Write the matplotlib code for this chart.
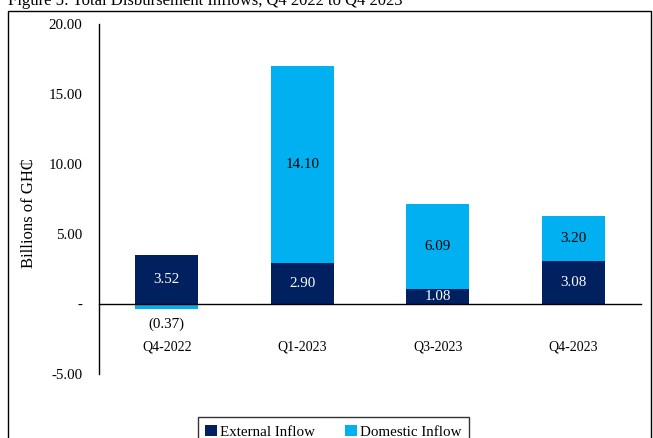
import matplotlib.pyplot as plt
import matplotlib.patches as patches

# Data (billions of GH cedi)
quarters = ["Q4-2022", "Q1-2023", "Q3-2023", "Q4-2023"]
external = [3.52, 2.90, 1.08, 3.08]
domestic = [-0.37, 14.10, 6.09, 3.20]
yticks = [-5, 0, 5, 10, 15, 20]

plt.rcParams["font.family"] = ["Liberation Serif", "DejaVu Serif"]
navy = "#002060"
sky = "#00B0F0"
fs = 10.8

fig = plt.figure(figsize=(6.53, 4.38), dpi=100)
ax = fig.add_axes([0.1516, 0.1461, 0.8300, 0.7991])

x = range(len(quarters))
w = 0.465
ax.bar(x, external, width=w, color=navy, label="External Inflow", zorder=2)
# Excel stacks negative values below zero separately
dom_bottom = [e if d >= 0 else 0 for e, d in zip(external, domestic)]
ax.bar(x, domestic, width=w, bottom=dom_bottom, color=sky, label="Domestic Inflow", zorder=2)

# Data labels
for i, (e, d, b) in enumerate(zip(external, domestic, dom_bottom)):
    ax.text(i, e / 2, f"{e:.2f}", color="white", ha="center", va="center", fontsize=fs)
    if d >= 0:
        ax.text(i, b + d / 2, f"{d:.2f}", color="black", ha="center", va="center", fontsize=fs)
    else:
        ax.text(i, d - 0.6, f"({abs(d):.2f})", color="black", ha="center", va="top", fontsize=fs)

ax.set_xlim(-0.5, 3.5)
ax.set_ylim(-5, 20)
ax.set_yticks(yticks)
ax.set_yticklabels(["-" if v == 0 else f"{v:.2f}" for v in yticks], fontsize=fs)
ax.tick_params(axis="y", length=0, pad=12)
ax.set_xticks(list(x))
ax.set_xticklabels(quarters, fontsize=fs)
ax.tick_params(axis="x", length=0, pad=26)
ax.spines["bottom"].set_position(("data", 0))
ax.spines["bottom"].set_linewidth(1.0)
for s in ["top", "right"]:
    ax.spines[s].set_visible(False)
ax.spines["left"].set_linewidth(1.0)
ax.set_ylabel("Billions of GH\u20b5", fontsize=12)
ax.yaxis.set_label_coords(-0.115, 0.46)

# Legend sitting at the bottom, partly cut off like the source
fig.legend(loc="upper center", bbox_to_anchor=(0.511, 0.064), ncol=2, fontsize=fs,
           frameon=True, fancybox=False, edgecolor="black", handlelength=0.8,
           handleheight=0.8, handletextpad=0.2, columnspacing=2.0, borderpad=0.5)

# Outer chart border
fig.patches.append(patches.Rectangle((0.0123, -0.05), 0.985, 1.0249, transform=fig.transFigure,
                                     fill=False, edgecolor="black", linewidth=1.0))

# Caption above the chart, cut off at the top edge
fig.text(0.012, 0.9886, "Figure 5: Total Disbursement Inflows, Q4 2022 to Q4 2023",
         fontsize=12, va="baseline", ha="left")

fig.savefig("out.png", dpi=100)
